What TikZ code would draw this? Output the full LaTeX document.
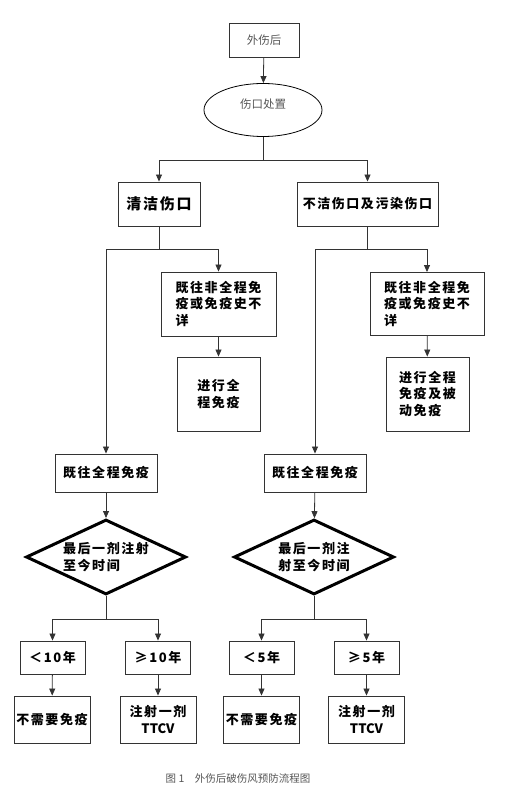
\documentclass[tikz,border=0pt]{standalone}
\usepackage{fontspec}
\usetikzlibrary{shapes.geometric,arrows.meta,positioning,calc}
\newfontfamily\cjk[LetterSpace=12]{Noto Sans CJK SC}
\newfontfamily\cjkplain{Noto Sans CJK SC}
\definecolor{linegray}{HTML}{333333}
\definecolor{textgray}{HTML}{555555}

\begin{document}
\begin{tikzpicture}[
  x=1pt, y=-1pt,
  font=\cjk\bfseries\fontsize{13}{16.5}\selectfont,
  >={Triangle[length=7pt,width=6pt]},
  box/.style={rectangle, draw=linegray, line width=0.9pt, inner sep=1pt,
              align=center},
  plainbox/.style={box, font=\cjkplain\fontsize{11.5}{14}\selectfont,
                   text=textgray},
  oval/.style={ellipse, draw=black, line width=0.8pt, minimum width=118pt,
               minimum height=53pt, font=\cjkplain\fontsize{11.5}{14}\selectfont,
               text=textgray},
  choice/.style={diamond, draw=black, line width=3pt, aspect=2.13,
                 inner sep=0pt, minimum width=160pt, minimum height=75pt,
                 align=left},
  flow/.style={->, draw=linegray, line width=0.8pt},
  link/.style={draw=linegray, line width=0.8pt},
]
\useasboundingbox (0,0) rectangle (516,799);

% Start
\node[plainbox, minimum width=70pt, minimum height=34pt] (injury) at (264,40) {外伤后};
\node[oval] (treat) at (263,110) {\raisebox{13pt}{伤口处置}};

% Wound types
\node[box, minimum width=82pt, minimum height=44pt,
      font=\cjk\bfseries\fontsize{15}{18}\selectfont] (clean) at (159,204) {清洁伤口};
\node[box, minimum width=141pt, minimum height=44pt] (dirty) at (367.5,204) {不洁伤口及污染伤口};

% Incomplete immunisation
\node[box, minimum width=115pt, minimum height=64pt, align=left] (partL) at (218.5,304)
  {既往非全程免\\疫或免疫史不\\详};
\node[box, minimum width=83pt, minimum height=74pt] (fullL) at (218.5,394) {进行全\\程免疫};
\node[box, minimum width=114pt, minimum height=63pt, align=left] (partR) at (427,304)
  {既往非全程免\\疫或免疫史不\\详};
\node[box, minimum width=83pt, minimum height=74pt, align=left] (fullR) at (427.5,394)
  {进行全程\\免疫及被\\动免疫};

% Complete immunisation
\node[box, minimum width=102pt, minimum height=38pt] (doneL) at (106,473) {既往全程免疫};
\node[box, minimum width=102pt, minimum height=38pt] (doneR) at (315,473) {既往全程免疫};
\node[choice] (lastL) at (106,557) {最后一剂注射\\至今时间};
\node[choice] (lastR) at (314,557) {最后一剂注\\射至今时间};

% Intervals
\node[box, minimum width=65pt, minimum height=33pt] (ltTen) at (52.5,657.5) {＜10年};
\node[box, minimum width=65pt, minimum height=33pt] (geTen) at (158,657.5) {≥10年};
\node[box, minimum width=65pt, minimum height=33pt] (ltFive) at (261.5,657.5) {＜5年};
\node[box, minimum width=65pt, minimum height=33pt] (geFive) at (366.5,657.5) {≥5年};

% Outcomes
\node[box, minimum width=76pt, minimum height=47pt] (noneA) at (52,719.5) {不需要免疫};
\node[box, minimum width=76pt, minimum height=47pt] (doseA) at (158,719.5) {注射一剂\\{\cjkplain TTCV}};
\node[box, minimum width=76pt, minimum height=47pt] (noneB) at (261.5,719.5) {不需要免疫};
\node[box, minimum width=76pt, minimum height=47pt] (doseB) at (366.5,719.5) {注射一剂\\{\cjkplain TTCV}};

% Caption
\node[font=\cjkplain\fontsize{10.5}{12}\selectfont, text=textgray] (caption) at (238,779)
  {图 1　外伤后破伤风预防流程图};

% Edges
\draw[flow] (injury) -- (treat);
\draw[link] (treat.south) -- ++(0,24) coordinate (split);
\draw[flow] (split) -| (clean.north);
\draw[flow] (split) -| (dirty.north);

\draw[link] (clean.south) -- ++(0,23) coordinate (cleanSplit);
\draw[flow] (cleanSplit) -| (doneL.north);
\draw[flow] (cleanSplit) -| (partL.north);
\draw[flow] (partL) -- (fullL);

\draw[link] (dirty.south) -- ++(0,23) coordinate (dirtySplit);
\draw[flow] (dirtySplit) -| (doneR.north);
\draw[flow] (dirtySplit) -| (partR.north);
\draw[flow] (partR) -- (fullR);

\draw[flow] (doneL) -- (lastL);
\draw[flow] (doneR) -- (lastR);

\draw[link] (lastL.south) -- ++(0,23) coordinate (lastLSplit);
\draw[flow] (lastLSplit) -| (ltTen.north);
\draw[flow] (lastLSplit) -| (geTen.north);
\draw[link] (lastR.south) -- ++(0,23) coordinate (lastRSplit);
\draw[flow] (lastRSplit) -| (ltFive.north);
\draw[flow] (lastRSplit) -| (geFive.north);

\draw[flow] (ltTen) -- (noneA);
\draw[flow] (geTen) -- (doseA);
\draw[flow] (ltFive) -- (noneB);
\draw[flow] (geFive) -- (doseB);

\end{tikzpicture}
\end{document}
